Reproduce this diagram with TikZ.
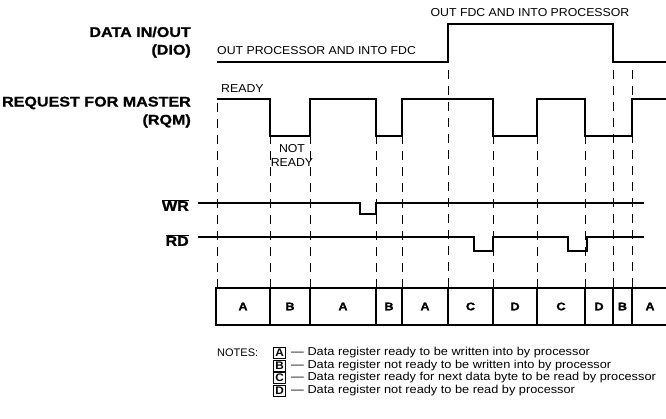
\documentclass[tikz,border=0pt]{standalone}
\usepackage{fontspec}
\setmainfont{Liberation Sans}
\newfontfamily\widefont[FakeStretch=1.15, BoldFeatures={FakeBold=1.2}]{Liberation Sans}
\newfontfamily\midfont[FakeStretch=1.07]{Liberation Sans}
\newfontfamily\notefont[FakeStretch=1.11]{Liberation Sans}
\begin{document}
\begin{tikzpicture}[x=1pt,y=-1pt,
  sig/.style={line width=2.9pt, line join=miter},
  guide/.style={line width=1pt, dash pattern=on 9pt off 7pt},
  biglbl/.style={anchor=east, inner sep=0pt, font=\widefont\bfseries\fontsize{14}{16}\selectfont},
  smalllbl/.style={inner sep=0pt, font=\midfont\fontsize{11.5}{13}\selectfont},
  celltxt/.style={inner sep=0pt, font=\widefont\bfseries\fontsize{11}{13}\selectfont},
  notetxt/.style={anchor=west, inner sep=0pt, font=\notefont\fontsize{11.5}{13}\selectfont},
  notebox/.style={draw, line width=0.9pt, inner sep=0pt, minimum width=12.5pt, minimum height=11pt, font=\midfont\bfseries\fontsize{11}{12}\selectfont}]
\useasboundingbox (0,0) rectangle (666,419);

% guides
\foreach \x in {217,270,310,376,402,493,537,585}
  \draw[guide] (\x,103) -- (\x,288);
\foreach \x in {448,613,632}
  \draw[guide] (\x,70) -- (\x,288);

% signals
\draw[sig] (217,62) -- (448,62) -- (448,24) -- (613,24) -- (613,62) -- (666,62);
\draw[sig] (217,99) -- (270,99) -- (270,136) -- (310,136) -- (310,99) -- (376,99) -- (376,136) -- (402,136) -- (402,99) -- (493,99) -- (493,136) -- (537,136) -- (537,99) -- (585,99) -- (585,136) -- (632,136) -- (632,99) -- (666,99);
\draw[sig] (198,203) -- (360,203) -- (360,214) -- (376,214) -- (376,203) -- (644,203);
\draw[sig] (198,237) -- (474,237) -- (474,251) -- (493,251) -- (493,237) -- (568,237) -- (568,251) -- (587,251) -- (587,237) -- (644,237);

% labels
\node[biglbl] (dio1) at (191,32) {DATA IN/OUT};
\node[biglbl] (dio2) at (191,51) {(DIO)};
\node[biglbl] (rqm1) at (191,103) {REQUEST FOR MASTER};
\node[biglbl] (rqm2) at (191,121) {(RQM)};
\node[biglbl] (wr) at (189,205) {$\overline{\mbox{WR}}$};
\node[biglbl] (rd) at (189,240) {$\overline{\mbox{RD}}$};

\node[smalllbl, anchor=west] (opif) at (217,51) {OUT PROCESSOR AND INTO FDC};
\node[smalllbl] (ofip) at (530,13) {OUT FDC AND INTO PROCESSOR};
\node[smalllbl, anchor=west] (rdy) at (221,89) {READY};
\node[smalllbl, align=center] (nrdy) at (292,155) {NOT\\[1pt]READY};

% register status row
\draw[sig] (668,288) -- (216,288) -- (216,325) -- (668,325);
\foreach \x in {270,310,376,402,448,493,537,585,613,632}
  \draw[sig] (\x,288) -- (\x,325);
\node[celltxt] (c1) at (243,306.5) {A};
\node[celltxt] (c2) at (290,306.5) {B};
\node[celltxt] (c3) at (343,306.5) {A};
\node[celltxt] (c4) at (389,306.5) {B};
\node[celltxt] (c5) at (425,306.5) {A};
\node[celltxt] (c6) at (470.5,306.5) {C};
\node[celltxt] (c7) at (515,306.5) {D};
\node[celltxt] (c8) at (561,306.5) {C};
\node[celltxt] (c9) at (599,306.5) {D};
\node[celltxt] (c10) at (622.5,306.5) {B};
\node[celltxt] (c11) at (650,306.5) {A};

% notes
\node[notetxt, font=\fontsize{11}{13}\selectfont] (notes) at (217,353) {NOTES:};
\node[notebox] (na) at (279.5,353) {A};
\node[notebox] (nb) at (279.5,365.5) {B};
\node[notebox] (nc) at (279.5,378) {C};
\node[notebox] (nd) at (279.5,390.5) {D};
\node[notetxt] (ta) at (291,353) {\textemdash\ Data register ready to be written into by processor};
\node[notetxt] (tb) at (291,365.5) {\textemdash\ Data register not ready to be written into by processor};
\node[notetxt] (tc) at (291,378) {\textemdash\ Data register ready for next data byte to be read by processor};
\node[notetxt] (td) at (291,390.5) {\textemdash\ Data register not ready to be read by processor};
\end{tikzpicture}
\end{document}
